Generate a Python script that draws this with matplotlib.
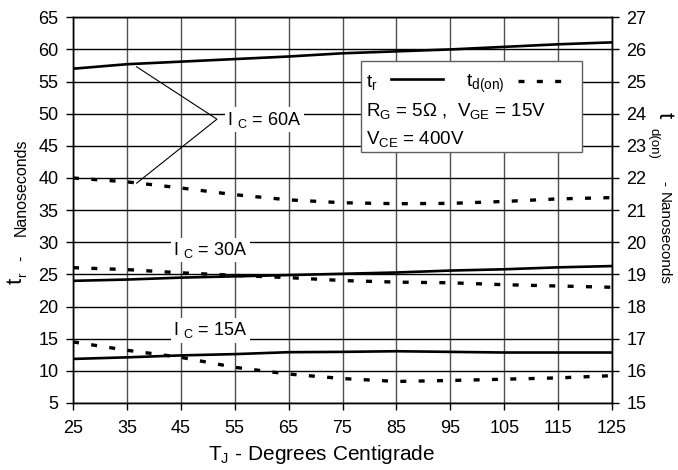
import matplotlib
matplotlib.use("Agg")
import matplotlib.pyplot as plt
from matplotlib.patches import Rectangle

plt.rcParams["font.family"] = ["Liberation Sans", "DejaVu Sans"]
plt.rcParams["mathtext.fontset"] = "custom"
plt.rcParams["mathtext.rm"] = "Liberation Sans"
plt.rcParams["mathtext.it"] = "Liberation Sans:italic"

# Junction temperature (deg C)
temps = [25, 35, 45, 55, 65, 75, 85, 95, 105, 115, 125]

# Rise time t_r (ns), left axis
tr_60 = [57.0, 57.7, 58.1, 58.5, 58.9, 59.4, 59.7, 60.0, 60.4, 60.8, 61.1]
tr_30 = [24.0, 24.2, 24.5, 24.7, 24.9, 25.1, 25.3, 25.6, 25.8, 26.1, 26.3]
tr_15 = [11.85, 12.1, 12.4, 12.6, 12.9, 12.95, 13.05, 12.95, 12.85, 12.85, 12.85]

# Turn-on delay t_d(on) (ns), right axis
td_60 = [22.0, 21.88, 21.69, 21.48, 21.32, 21.23, 21.2, 21.21, 21.27, 21.35, 21.39]
td_30 = [19.21, 19.15, 19.05, 18.97, 18.9, 18.81, 18.76, 18.74, 18.68, 18.64, 18.6]
td_15 = [16.9, 16.64, 16.42, 16.11, 15.9, 15.76, 15.67, 15.7, 15.74, 15.78, 15.85]

x_ticks = list(range(25, 126, 10))
left_ticks = list(range(5, 66, 5))
right_ticks = list(range(15, 28, 1))

W, H = 678, 470
fig = plt.figure(figsize=(W / 100, H / 100), dpi=100)
ax = fig.add_axes([0.1077, 0.1426, 0.795, 0.8206])
ax2 = ax.twinx()

ax.set_xlim(25, 125)
ax.set_ylim(5, 65)
ax2.set_ylim(15, 27)
ax.set_xticks(x_ticks)
ax.set_yticks(left_ticks)
ax2.set_yticks(right_ticks)

ax.grid(axis="y", color="black", lw=1.0)
ax.grid(axis="x", color="#505050", lw=1.0)
ax.set_axisbelow(True)

for a in (ax, ax2):
    for s in a.spines.values():
        s.set_color("black")
        s.set_linewidth(1.0)
    a.tick_params(direction="out", length=5, width=1, labelsize=13, colors="black")
ax.tick_params(axis="x", pad=7.5)
ax.tick_params(axis="y", pad=5.5)
ax2.tick_params(axis="y", pad=5.5)

solid_kw = dict(color="black", lw=1.9, solid_capstyle="butt")
dash_kw = dict(color="black", lw=2.4, linestyle=(0, (1.8, 3.7)), dash_capstyle="butt")

for tr in (tr_60, tr_30, tr_15):
    ax.plot(temps, tr, **solid_kw)
for td in (td_60, td_30, td_15):
    ax2.plot(temps, td, **dash_kw)

# Leader lines for the 60 A pair
ax.plot([36.8, 51.7, 36.8], [57.3, 49.15, 39.2], color="black", lw=0.8)

box = dict(fc="white", ec="none", pad=1.5)
ic_kw = dict(fontsize=13, va="center", ha="left", bbox=box, zorder=5)
ax.text(53.6, 49.1, "I $_\\mathregular{C}$ = 60A", **ic_kw)
ax.text(43.6, 28.8, "I $_\\mathregular{C}$ = 30A", **ic_kw)
ax.text(43.6, 16.3, "I $_\\mathregular{C}$ = 15A", **ic_kw)

# Legend / test-condition box
tA = ax2.transAxes
ax2.add_patch(Rectangle((0.534, 0.651), 0.411, 0.236, transform=tA, fc="white",
                        ec="#606060", lw=1.0, zorder=6))
lg_kw = dict(transform=tA, va="baseline", ha="left", zorder=7)
ax2.text(0.544, 0.8205, "t$_\\mathregular{r}$", fontsize=14, **lg_kw)
ax2.plot([0.5905, 0.6865], [0.839, 0.839], transform=tA, color="black", lw=1.9, zorder=7)
ax2.text(0.730, 0.8205, "t$_\\mathregular{d(on)}$", fontsize=14, **lg_kw)
ax2.plot([0.8256, 0.9247], [0.836, 0.836], transform=tA, color="black", lw=2.4,
         linestyle=(0, (1.8, 3.7)), dash_capstyle="butt", zorder=7)
ax2.text(0.544, 0.7435, "R$_\\mathregular{G}$ = 5\u03a9 ,  V$_\\mathregular{GE}$ = 15V", fontsize=13.5, **lg_kw)
ax2.text(0.544, 0.672, "V$_\\mathregular{CE}$ = 400V", fontsize=13.5, **lg_kw)

ax.set_xlabel("T$_\\mathregular{J}$ - Degrees Centigrade", fontsize=15, labelpad=6)
ax.xaxis.set_label_coords(0.462, -0.105)


def px(x, y):
    return x / W, 1 - y / H


rot_kw = dict(rotation_mode="anchor", ha="left", va="baseline")

# Left axis title, written bottom to top
fig.text(*px(22, 284), "t", fontsize=16, rotation=90, **rot_kw)
fig.text(*px(26, 277), "r", fontsize=9.5, rotation=90, **rot_kw)
fig.text(*px(26, 261), "-", fontsize=11.5, rotation=90, **rot_kw)
fig.text(*px(26, 236), "Nanoseconds", fontsize=11.5, rotation=90, **rot_kw)

# Right axis title, written top to bottom
fig.text(*px(659, 112), "t", fontsize=16, rotation=270, **rot_kw)
fig.text(*px(651, 128), "d(on)", fontsize=9.5, rotation=270, **rot_kw)
fig.text(*px(660, 181), "-", fontsize=11, rotation=270, **rot_kw)
fig.text(*px(660, 192), "Nanoseconds", fontsize=11, rotation=270, **rot_kw)

fig.savefig("out.png", dpi=100)
